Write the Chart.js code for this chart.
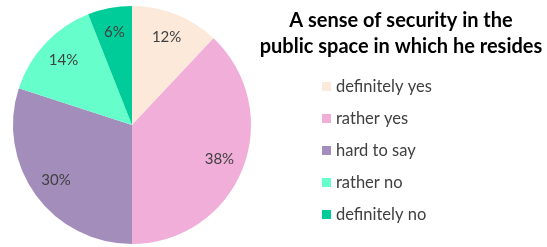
<!DOCTYPE html>
<html>
<head>
<meta charset="utf-8">
<script src="https://cdn.jsdelivr.net/npm/chart.js@4/dist/chart.umd.min.js"></script>
<style>
  html, body { margin: 0; padding: 0; background: #fff; }
  #wrap { position: relative; width: 547px; height: 247px; }
</style>
</head>
<body>
<div id="wrap"><canvas id="c" width="547" height="247"></canvas></div>
<script>
const categories = ["definitely yes", "rather yes", "hard to say", "rather no", "definitely no"];
const values = [12, 38, 30, 14, 6];
const colors = ["#FDE9D9", "#F0AED9", "#A28DBB", "#66FFCC", "#00CC99"];
const titleLines = ["A sense of security in the", "public space in which he resides"];

const FONT = "Lato, 'Open Sans', sans-serif";
const TEXT = "#404040";

const overlay = {
  id: "overlay",
  afterDatasetsDraw(chart) {
    const ctx = chart.ctx;
    const meta = chart.getDatasetMeta(0);
    ctx.save();
    // data labels
    ctx.fillStyle = TEXT;
    ctx.font = "15px " + FONT;
    ctx.textAlign = "center";
    ctx.textBaseline = "middle";
    meta.data.forEach((arc, i) => {
      const p = arc.getProps(["x", "y", "startAngle", "endAngle", "outerRadius"], true);
      const mid = (p.startAngle + p.endAngle) / 2;
      const r = p.outerRadius * 0.79;
      ctx.fillText(values[i] + "%", p.x + Math.cos(mid) * r, p.y + Math.sin(mid) * r);
    });
    // title
    ctx.fillStyle = "#000";
    ctx.font = "bold 20px " + FONT;
    ctx.fillText(titleLines[0], 401, 21);
    ctx.fillText(titleLines[1], 401, 47);
    // legend
    ctx.textAlign = "left";
    ctx.font = "16.5px " + FONT;
    categories.forEach((c, i) => {
      const y = 87 + i * 32;
      ctx.fillStyle = colors[i];
      ctx.fillRect(322, y - 5, 9, 9);
      ctx.fillStyle = TEXT;
      ctx.fillText(c, 336, y);
    });
    ctx.restore();
  }
};

new Chart(document.getElementById("c"), {
  type: "pie",
  data: {
    labels: categories,
    datasets: [{ data: values, backgroundColor: colors, borderWidth: 0 }]
  },
  options: {
    responsive: false,
    animation: false,
    layout: { padding: { left: 13, top: 6, bottom: 3, right: 296 } },
    plugins: { legend: { display: false }, tooltip: { enabled: false }, title: { display: false } }
  },
  plugins: [overlay]
});
</script>
</body>
</html>
